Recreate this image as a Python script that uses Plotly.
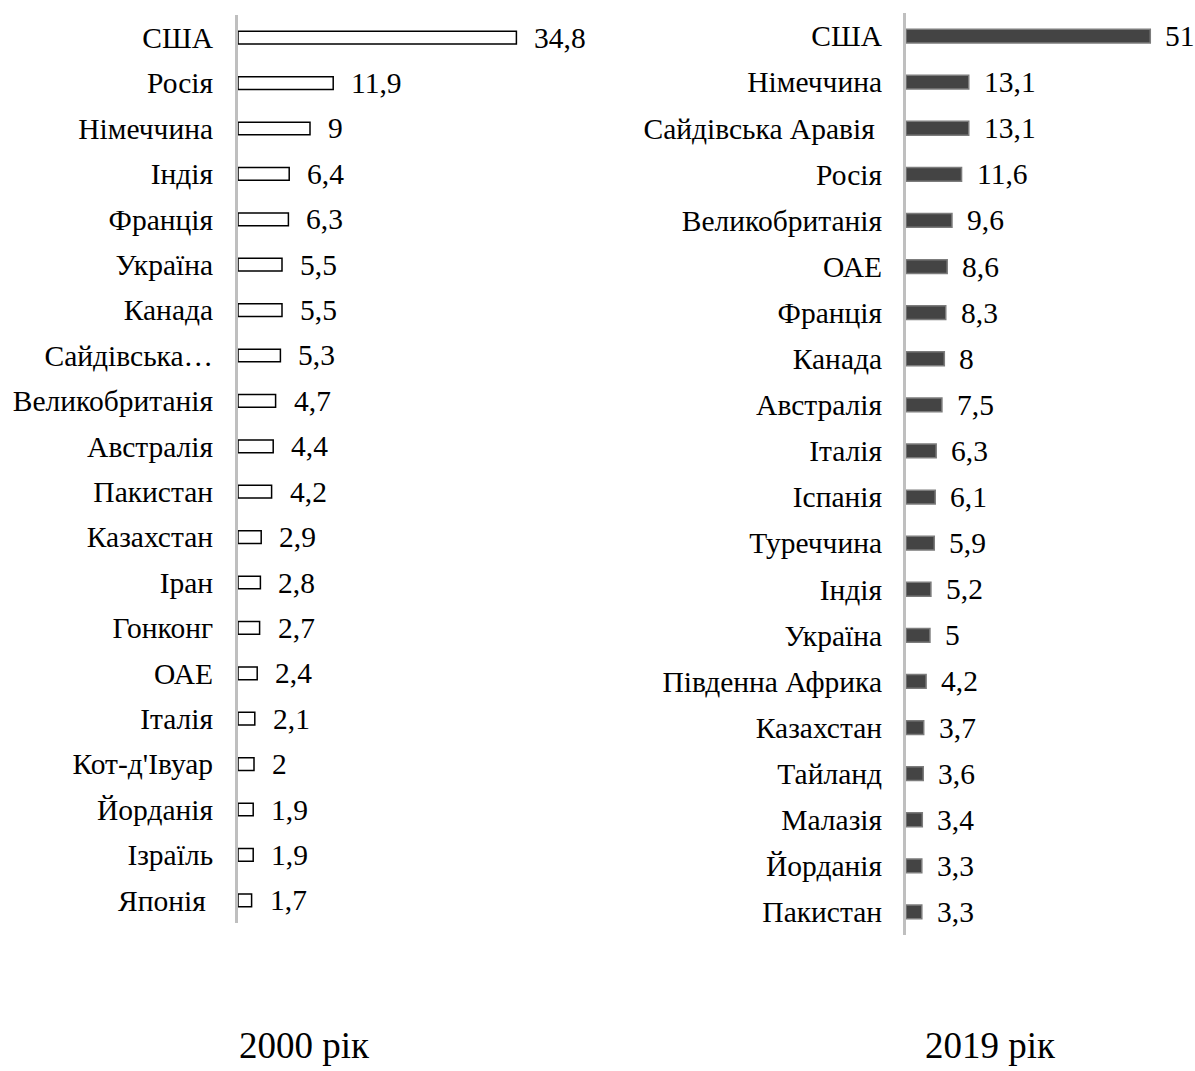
import plotly.graph_objects as go

countries_2000 = ["США", "Росія", "Німеччина", "Індія", "Франція", "Україна", "Канада",
                  "Сайдівська…", "Великобританія", "Австралія", "Пакистан", "Казахстан",
                  "Іран", "Гонконг", "ОАЕ", "Італія", "Кот-д'Івуар", "Йорданія", "Ізраїль", "Японія "]
values_2000 = [34.8, 11.9, 9, 6.4, 6.3, 5.5, 5.5, 5.3, 4.7, 4.4, 4.2, 2.9, 2.8, 2.7, 2.4, 2.1, 2, 1.9, 1.9, 1.7]

countries_2019 = ["США", "Німеччина", "Сайдівська Аравія ", "Росія", "Великобританія", "ОАЕ",
                  "Франція", "Канада", "Австралія", "Італія", "Іспанія", "Туреччина", "Індія",
                  "Україна", "Південна Африка", "Казахстан", "Тайланд", "Малазія", "Йорданія", "Пакистан"]
values_2019 = [51, 13.1, 13.1, 11.6, 9.6, 8.6, 8.3, 8, 7.5, 6.3, 6.1, 5.9, 5.2, 5, 4.2, 3.7, 3.6, 3.4, 3.3, 3.3]

titles = ["2000 рік", "2019 рік"]

FONT = "Liberation Serif, Times New Roman, serif"
W, H = 1195, 1071
FS = 29.5


def fmt(v):
    return f"{v:g}".replace(".", ",")


fig = go.Figure()

fig.add_trace(go.Bar(
    y=list(range(len(countries_2000))), x=values_2000, orientation="h",
    marker=dict(color="white", line=dict(color="black", width=1.5)),
    width=0.28, xaxis="x", yaxis="y", showlegend=False, hoverinfo="x+y"))

fig.add_trace(go.Bar(
    y=list(range(len(countries_2019))), x=values_2019, orientation="h",
    marker=dict(color="#444444", line=dict(color="#7c7c7c", width=1.5)),
    width=0.3, xaxis="x2", yaxis="y2", showlegend=False, hoverinfo="x+y"))

annotations = []
for i, v in enumerate(values_2000):
    annotations.append(dict(x=v, y=i, xref="x", yref="y", text=fmt(v), showarrow=False,
                            xanchor="left", yanchor="middle", xshift=16,
                            font=dict(family=FONT, size=FS, color="black")))
for i, v in enumerate(values_2019):
    annotations.append(dict(x=v, y=i, xref="x2", yref="y2", text=fmt(v), showarrow=False,
                            xanchor="left", yanchor="middle", xshift=13,
                            font=dict(family=FONT, size=FS, color="black")))
annotations.append(dict(x=304 / W, y=1 - 1045 / H, xref="paper", yref="paper", text=titles[0],
                        showarrow=False, xanchor="center", yanchor="middle",
                        font=dict(family=FONT, size=37, color="black")))
annotations.append(dict(x=990 / W, y=1 - 1045 / H, xref="paper", yref="paper", text=titles[1],
                        showarrow=False, xanchor="center", yanchor="middle",
                        font=dict(family=FONT, size=37, color="black")))

left_x0 = 238 / W
left_x1 = 600 / W
right_x0 = 906 / W
right_x1 = 1.0

fig.update_layout(
    width=W, height=H,
    margin=dict(l=0, r=0, t=0, b=0),
    paper_bgcolor="white", plot_bgcolor="white",
    font=dict(family=FONT, size=FS, color="black"),
    xaxis=dict(domain=[left_x0, left_x1], range=[0, 362 / 8.0], visible=False, fixedrange=True),
    yaxis=dict(domain=[1 - 923 / H, 1 - 15 / H], range=[len(countries_2000) - 0.5, -0.5],
               tickmode="array", tickvals=list(range(len(countries_2000))), ticktext=countries_2000,
               showline=True, linecolor="#BFBFBF", linewidth=3, ticks="", showgrid=False,
               zeroline=False, automargin=False, ticklabelstandoff=16, anchor="x"),
    xaxis2=dict(domain=[right_x0, right_x1], range=[0, 289 / 4.79], visible=False, fixedrange=True),
    yaxis2=dict(domain=[1 - 935 / H, 1 - 13 / H], range=[len(countries_2019) - 0.5, -0.5],
                tickmode="array", tickvals=list(range(len(countries_2019))), ticktext=countries_2019,
                showline=True, linecolor="#BFBFBF", linewidth=3, ticks="", showgrid=False,
                zeroline=False, automargin=False, ticklabelstandoff=15, anchor="x2"),
    annotations=annotations,
    bargap=0.7,
)

fig.write_html("out.html", config={"displayModeBar": False},
               post_script="document.body.style.margin='0';document.body.style.overflow='hidden';")
